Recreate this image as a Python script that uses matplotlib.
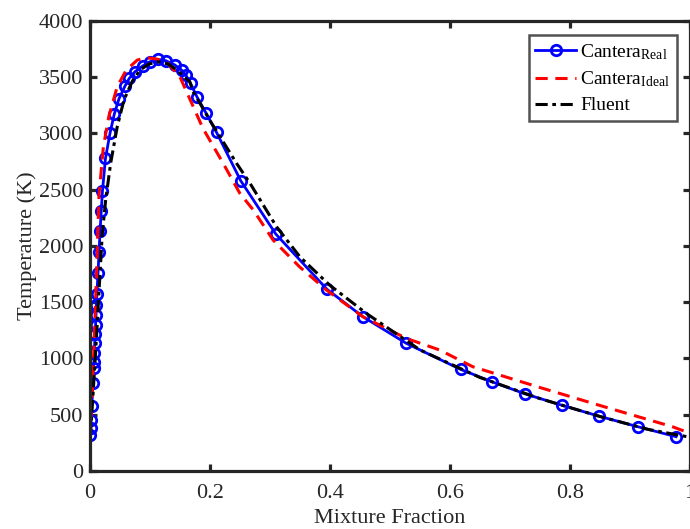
import matplotlib
matplotlib.use('Agg')
import matplotlib.pyplot as plt
import numpy as np

plt.rcParams['font.family'] = ['Liberation Serif', 'DejaVu Serif']
plt.rcParams['mathtext.fontset'] = 'custom'
plt.rcParams['mathtext.rm'] = 'Liberation Serif'
plt.rcParams['mathtext.it'] = 'Liberation Serif:italic'

# Cantera, real-gas (markers)
z_real = [0.0002, 0.0008, 0.0015, 0.0028, 0.0045, 0.0056, 0.0062, 0.0068, 0.0075,
          0.0082, 0.0090, 0.0097, 0.0104, 0.0112, 0.0130, 0.0148, 0.0165, 0.0185,
          0.0205, 0.0255, 0.0330, 0.0401, 0.0480, 0.0580, 0.0651, 0.0746, 0.0874,
          0.0996, 0.1124, 0.1262, 0.1412, 0.1523, 0.1595, 0.1673, 0.1784, 0.1928,
          0.2106, 0.2510, 0.3094, 0.3948, 0.4548, 0.5270, 0.6175, 0.6696, 0.7256,
          0.7870, 0.8490, 0.9134, 0.9767]
t_real = [320, 382, 453, 580, 780, 915, 965, 1045, 1135,
          1215, 1300, 1385, 1475, 1570, 1756, 1948, 2134, 2312,
          2489, 2777, 2999, 3168, 3306, 3419, 3487, 3546, 3597,
          3635, 3656, 3644, 3606, 3561, 3517, 3443, 3319, 3182,
          3008, 2578, 2105, 1614, 1370, 1134, 903, 793, 684,
          583, 486, 393, 305]

# Cantera, ideal gas
z_ideal = [0.0, 0.003, 0.006, 0.009, 0.012, 0.0147, 0.022, 0.031, 0.045, 0.060,
           0.0785, 0.094, 0.110, 0.127, 0.1495, 0.188, 0.2217, 0.2495, 0.272, 0.305,
           0.349, 0.394, 0.4548, 0.527, 0.5825, 0.638, 0.749, 0.860, 0.971, 1.0]
t_ideal = [300, 640, 1050, 1500, 1980, 2450, 2880, 3146, 3413, 3560,
           3650, 3670, 3660, 3635, 3502, 3043, 2733, 2466, 2318, 2051,
           1814, 1607, 1370, 1178, 1075, 926, 743, 566, 393, 335]

# Fluent
z_fluent = [0.0, 0.004, 0.008, 0.012, 0.016, 0.0201, 0.0258, 0.0341, 0.0451, 0.0563,
            0.070, 0.083, 0.098, 0.1134, 0.130, 0.145, 0.166, 0.1717, 0.200, 0.244,
            0.2665, 0.3106, 0.350, 0.399, 0.4604, 0.550, 0.650, 0.750, 0.850, 0.930, 1.0]
t_fluent = [300, 620, 960, 1330, 1720, 2100, 2407, 2733, 3058, 3295,
            3460, 3561, 3615, 3635, 3615, 3560, 3457, 3369, 3110, 2733,
            2555, 2170, 1900, 1652, 1400, 1075, 830, 643, 484, 370, 300]

fig = plt.figure(figsize=(6.9, 5.29), dpi=100)
ax = fig.add_axes([0.1307, 0.1096, 0.8693, 0.8514])

ax.plot(z_real, t_real, '-o', color='#0000ff', lw=2, ms=7.5, mew=2,
        mfc='none', label=r'Cantera$_{\mathrm{Real}}$')
ax.plot(z_ideal, t_ideal, '--', color='#ff0000', lw=2.2, dashes=(4, 2.5),
        label=r'Cantera$_{\mathrm{Ideal}}$')
ax.plot(z_fluent, t_fluent, '-.', color='black', lw=2.2, dashes=(4, 1.5, 1.2, 1.5),
        label='Fluent')

ax.set_xlim(0, 1)
ax.set_ylim(0, 4000)
ax.set_xticks(np.arange(0, 1.01, 0.2))
ax.set_xticklabels(['0', '0.2', '0.4', '0.6', '0.8', '1'])
ax.set_yticks(np.arange(0, 4001, 500))

for spine in ax.spines.values():
    spine.set_linewidth(2.3)
    spine.set_color('#262626')
ax.tick_params(direction='in', which='both', top=True, right=True, length=5,
               width=2.3, color='#262626', labelsize=16, labelcolor='#262626')
ax.tick_params(axis='y', pad=5)
ax.tick_params(axis='x', pad=9)

ax.set_xlabel('Mixture Fraction', fontsize=16, color='#262626', labelpad=5)
ax.set_ylabel('Temperature (K)', fontsize=16, color='#262626', labelpad=1)

leg = ax.legend(loc='upper right', bbox_to_anchor=(0.978, 0.968), borderaxespad=0,
                fontsize=14, fancybox=False, handlelength=2.1, handletextpad=0.2,
                labelspacing=0.4, borderpad=0.35)
leg.get_frame().set_edgecolor('#262626')
leg.get_frame().set_linewidth(1.8)

plt.savefig('out.png', dpi=100)
